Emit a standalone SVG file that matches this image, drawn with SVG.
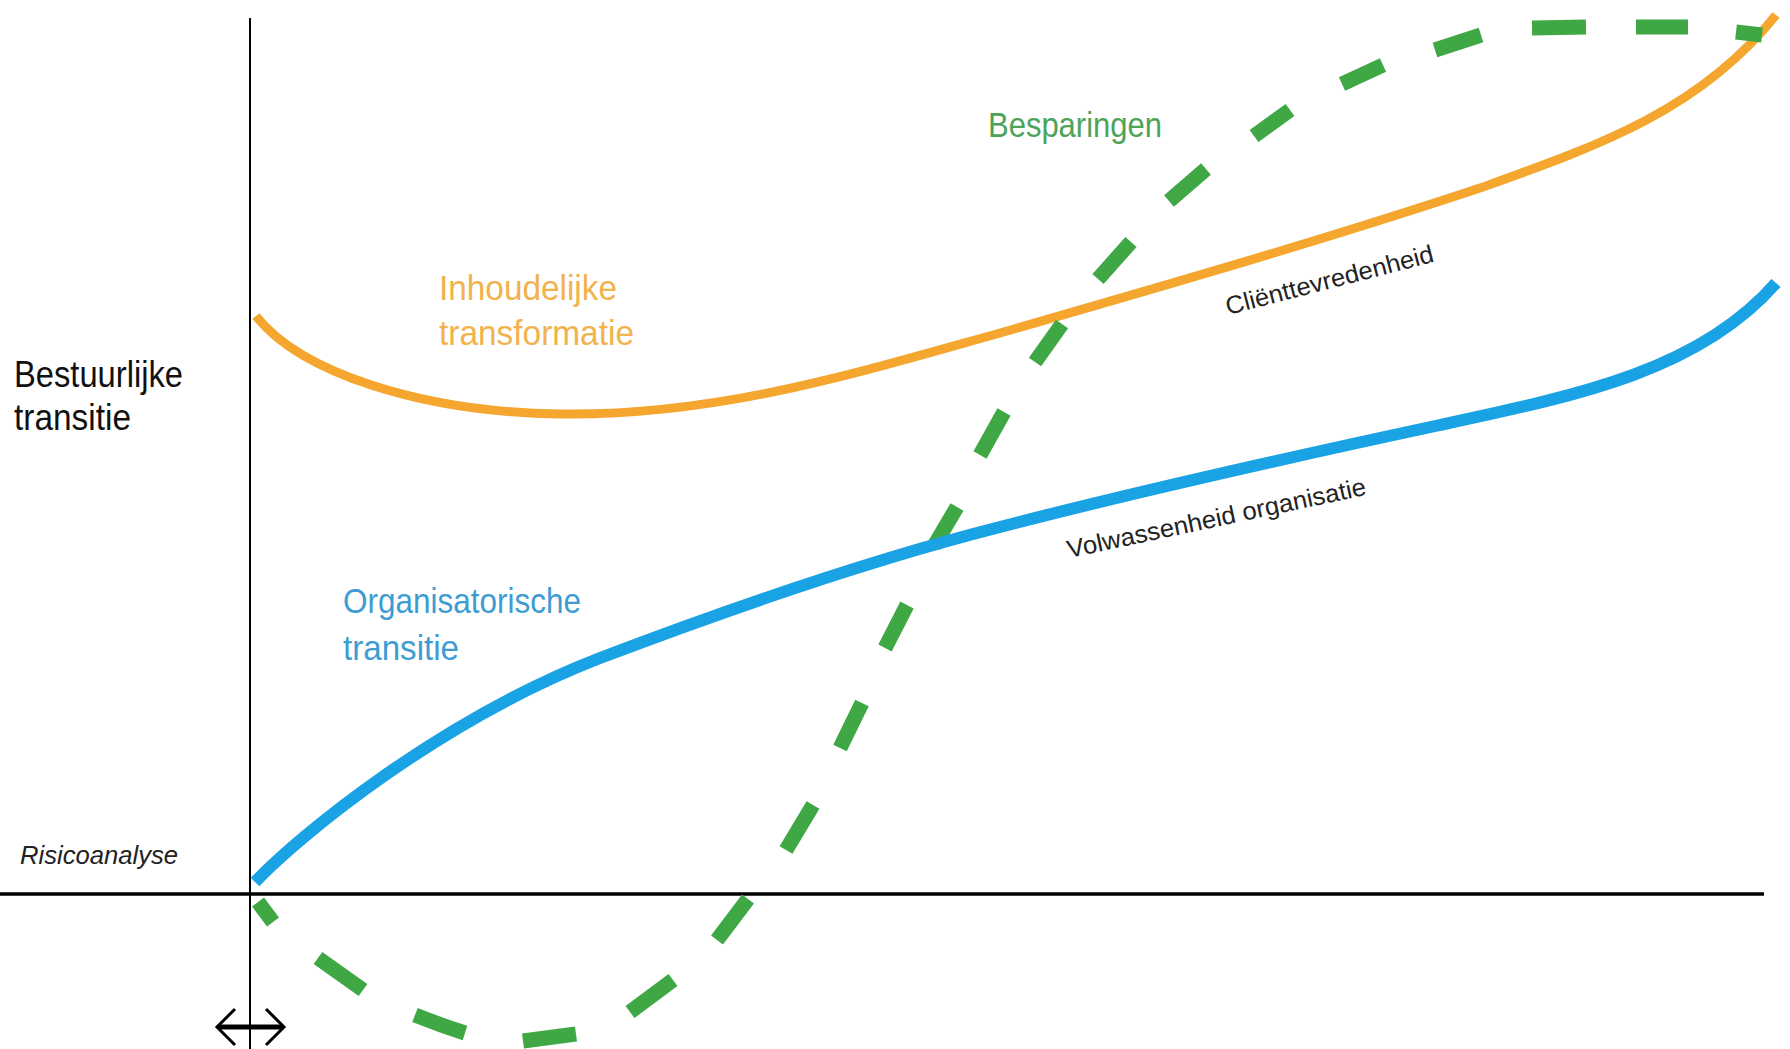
<svg xmlns="http://www.w3.org/2000/svg" width="1790" height="1049" viewBox="0 0 1790 1049">
<style>
.lbl{font-family:"Liberation Sans","DejaVu Sans",sans-serif;}
.big{font-size:35px;}
.small{font-size:25px;fill:#222;}
.curve{fill:none;}
</style>
<rect width="1790" height="1049" fill="#ffffff"/>
<g id="axes">
<line x1="250" y1="18" x2="250" y2="1049" stroke="#000" stroke-width="2"/>
<line x1="0" y1="894" x2="1764" y2="894" stroke="#000" stroke-width="3.5"/>
</g>
<g id="connectors">
<path id="inhoudelijke-curve" class="curve" stroke="#F4A62E" stroke-width="9" d="M256,316 C300,372 420,412 560,414 C720,416 860,372 1000,333 C1160,287 1330,238 1483,187 C1600,145 1700,110 1776,15"/>
<path id="besparingen-curve" class="curve" stroke="#3FA845" stroke-width="15" stroke-linecap="butt" d="M258,902 L273,922 M318,958 L363,990 M415,1015 Q440,1025 465,1033 M523,1041 L576,1034 M630,1012 L673,980 M717,940 L748,899 M786,850 L813,805 M840,748 L862,703 M885,648 L907,605 M934,546 L957,507 M980,455 L1004,412 M1035,362 L1062,324 M1098,279 L1131,242 M1169,201 L1206,169 M1254,136 L1290,110 M1342,84 L1383,65 M1435,50 L1481,35 M1532,28 L1586,27 M1636,27 L1688,27 M1736,32 L1762,35"/>
<path id="organisatorische-curve" class="curve" stroke="#1AA3E4" stroke-width="12" d="M255,882 C300,835 440,720 600,658 C700,620 850,565 1000,527 C1150,488 1300,455 1440,425 C1580,395 1700,370 1776,283"/>
</g>
<g id="bestuurlijke">
<text class="lbl" font-size="36" fill="#111" x="14" y="387" textLength="169" lengthAdjust="spacingAndGlyphs">Bestuurlijke</text>
<text class="lbl" font-size="36" fill="#111" x="14" y="430" textLength="117" lengthAdjust="spacingAndGlyphs">transitie</text>
</g>
<g id="inhoudelijke">
<text class="lbl big" fill="#F2B24C" x="439" y="300" textLength="178" lengthAdjust="spacingAndGlyphs">Inhoudelijke</text>
<text class="lbl big" fill="#F2B24C" x="439" y="345" textLength="195" lengthAdjust="spacingAndGlyphs">transformatie</text>
</g>
<g id="besparingen">
<text class="lbl big" fill="#4DA35A" x="988" y="137" textLength="174" lengthAdjust="spacingAndGlyphs">Besparingen</text>
</g>
<g id="organisatorische">
<text class="lbl big" fill="#3E9CD3" x="343" y="613" textLength="238" lengthAdjust="spacingAndGlyphs">Organisatorische</text>
<text class="lbl big" fill="#3E9CD3" x="343" y="660" textLength="116" lengthAdjust="spacingAndGlyphs">transitie</text>
</g>
<g id="risicoanalyse">
<text class="lbl" font-size="26" font-style="italic" fill="#222" x="20" y="864" textLength="158" lengthAdjust="spacingAndGlyphs">Risicoanalyse</text>
</g>
<g id="clienttevredenheid">
<text class="lbl small" transform="translate(1228,315) rotate(-14.5)" x="0" y="0" textLength="214" lengthAdjust="spacingAndGlyphs">Cliënttevredenheid</text>
</g>
<g id="volwassenheid">
<text class="lbl small" transform="translate(1069,558) rotate(-12)" x="0" y="0" textLength="305" lengthAdjust="spacingAndGlyphs">Volwassenheid organisatie</text>
</g>
<g id="range-arrow" stroke="#000" fill="none">
<line x1="218" y1="1027" x2="283" y2="1027" stroke-width="5"/>
<polyline points="235,1009 217,1027 235,1045" stroke-width="3"/>
<polyline points="266,1009 284,1027 266,1045" stroke-width="3"/>
</g>
</svg>
